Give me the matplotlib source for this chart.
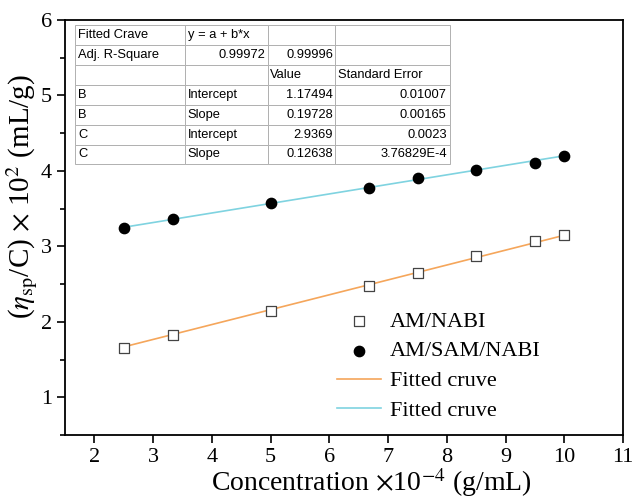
import numpy as np
import matplotlib.pyplot as plt

plt.rcParams['font.family'] = ['Liberation Serif', 'DejaVu Serif']
plt.rcParams['mathtext.fontset'] = 'stix'

# Data
conc = [2.5, 3.33, 5.0, 6.67, 7.5, 8.5, 9.5, 10.0]
am_nabi = [1.65, 1.82, 2.15, 2.48, 2.65, 2.87, 3.07, 3.15]
am_sam_nabi = [3.25, 3.36, 3.57, 3.78, 3.91, 4.01, 4.11, 4.20]

# Linear fit parameters from the table
fit_b = (1.17494, 0.19728)
fit_c = (2.9369, 0.12638)

table_rows = [
    ['Fitted Crave', 'y = a + b*x', '', ''],
    ['Adj. R-Square', '0.99972', '0.99996', ''],
    ['', '', 'Value', 'Standard Error'],
    ['B', 'Intercept', '1.17494', '0.01007'],
    ['B', 'Slope', '0.19728', '0.00165'],
    ['C', 'Intercept', '2.9369', '0.0023'],
    ['C', 'Slope', '0.12638', '3.76829E-4'],
]

fig = plt.figure(figsize=(6.32, 5.0), dpi=100)
ax = fig.add_axes([0.103, 0.13, 0.883, 0.83])

xf = np.array([conc[0], conc[-1]])
ax.scatter(conc, am_nabi, marker='s', s=45, facecolor='white', edgecolor='#444444',
           linewidth=0.9, zorder=3, label='AM/NABI')
ax.scatter(conc, am_sam_nabi, marker='o', s=55, color='black', zorder=3,
           label='AM/SAM/NABI')
ax.plot(xf, fit_b[0] + fit_b[1] * xf, color='#f5a65b', lw=1.2, zorder=2,
        label='Fitted cruve')
ax.plot(xf, fit_c[0] + fit_c[1] * xf, color='#7fd3e0', lw=1.2, zorder=2,
        label='Fitted cruve')

ax.set_xlim(1.5, 11)
ax.set_ylim(0.5, 6)
ax.set_xticks(range(2, 12))
ax.set_yticks(range(1, 7))
ax.set_yticks(np.arange(0.5, 6.01, 0.5), minor=True)
ax.tick_params(direction='out', length=6, width=1.2, labelsize=16)
ax.tick_params(which='minor', direction='out', length=3.5, width=1.2)
for s in ax.spines.values():
    s.set_linewidth(1.3)

ax.set_xlabel(r'Concentration $\times$10$^{-4}$ (g/mL)', fontsize=20)
ax.set_ylabel(r'($\eta_{\rm sp}$/C) $\times$ 10$^2$ (mL/g)', fontsize=21)
ax.xaxis.set_label_coords(0.548, -0.076)
ax.yaxis.set_label_coords(-0.045, 0.575)

ax.legend(loc='lower left', bbox_to_anchor=(0.451, -0.015), frameon=False, fontsize=16,
          handlelength=2.0, handletextpad=0.4, labelspacing=0.42)

tbl = ax.table(cellText=table_rows, cellLoc='left',
               colWidths=[0.293, 0.221, 0.179, 0.307],
               bbox=[0.018, 0.652, 0.672, 0.336])
tbl.auto_set_font_size(False)
tbl.set_fontsize(9.3)
for (r, c), cell in tbl.get_celld().items():
    cell.set_edgecolor('#b0b0b0')
    cell.set_linewidth(0.7)
    cell.PAD = 0.03
    cell.get_text().set_family(['Liberation Sans'])
    if r != 2 and c >= 2 or (r == 1 and c == 1):
        cell.get_text().set_horizontalalignment('right')
        cell._loc = 'right'
tbl.set_zorder(4)

fig.savefig('out.png', dpi=100)
